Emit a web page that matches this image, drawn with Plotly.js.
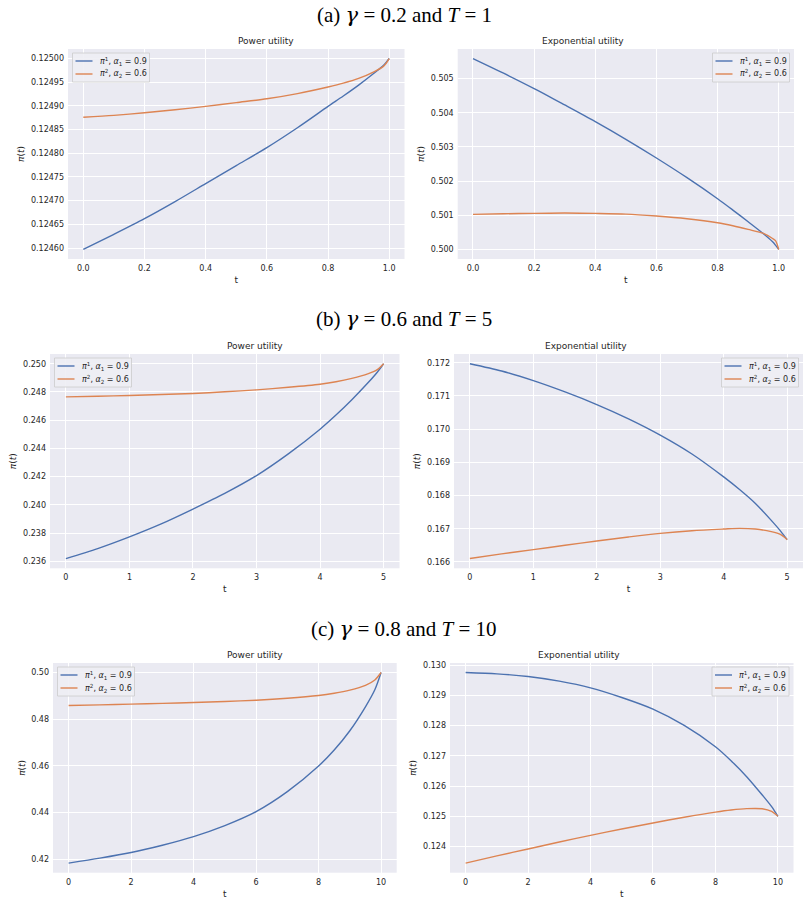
<!DOCTYPE html>
<html>
<head>
<meta charset="utf-8">
<script src="https://cdn.plot.ly/plotly-3.0.1.min.js"></script>
<style>
  body { margin: 0; background: #ffffff; }
  #chart { width: 808px; height: 904px; }
</style>
</head>
<body>
<div id="chart"></div>
<script>
// ---- time grids (T = 1, 5, 10) ----
const tA = [0, 0.1, 0.2, 0.3, 0.4, 0.5, 0.6, 0.7, 0.8, 0.85, 0.9, 0.95, 0.98, 0.99, 1.0];
const tB = [0, 0.5, 1, 1.5, 2, 2.5, 3, 3.5, 4, 4.25, 4.5, 4.75, 4.9, 5];
const tC = [0, 1, 2, 3, 4, 5, 6, 7, 8, 8.5, 9, 9.5, 9.8, 10];

// ---- (a) gamma = 0.2, T = 1 ----
const powerA_pi1 = [0.124597, 0.124629, 0.124662, 0.124698, 0.124736, 0.124774, 0.124812, 0.124854, 0.124899, 0.124921, 0.124944, 0.124969, 0.124985, 0.124992, 0.125000];
const powerA_pi2 = [0.124876, 0.124880, 0.1248855, 0.124892, 0.124899, 0.124907, 0.124915, 0.124926, 0.124940, 0.124948, 0.124958, 0.124972, 0.124983, 0.124990, 0.125000];
const expA_pi1 = [0.505586, 0.505156, 0.504707, 0.504228, 0.503740, 0.503223, 0.502676, 0.502100, 0.501484, 0.501152, 0.500810, 0.500460, 0.500225, 0.500120, 0.500000];
const expA_pi2 = [0.501025, 0.501045, 0.501055, 0.501065, 0.501055, 0.501035, 0.500977, 0.500898, 0.500781, 0.500693, 0.500586, 0.500469, 0.500320, 0.500250, 0.500000];

// ---- (b) gamma = 0.6, T = 5 ----
const powerB_pi1 = [0.23619, 0.23690, 0.23773, 0.23865, 0.23970, 0.24081, 0.24207, 0.24361, 0.24536, 0.24636, 0.24745, 0.24863, 0.24940, 0.25000];
const powerB_pi2 = [0.24765, 0.24770, 0.24775, 0.24782, 0.24789, 0.24801, 0.24815, 0.24833, 0.24855, 0.24872, 0.24896, 0.24928, 0.24958, 0.25000];
const expB_pi1 = [0.17197, 0.17175, 0.17146, 0.17112, 0.17074, 0.17031, 0.16982, 0.16925, 0.16856, 0.16818, 0.16776, 0.16725, 0.16692, 0.16667];
const expB_pi2 = [0.16610, 0.16624, 0.16637, 0.16650, 0.16663, 0.16675, 0.16686, 0.16694, 0.16699, 0.16701, 0.16699, 0.16691, 0.16682, 0.16667];

// ---- (c) gamma = 0.8, T = 10 ----
const powerC_pi1 = [0.41829, 0.42043, 0.42285, 0.42599, 0.42970, 0.43441, 0.44039, 0.44895, 0.45993, 0.46678, 0.47504, 0.48531, 0.49260, 0.50000];
const powerC_pi2 = [0.48586, 0.48615, 0.48645, 0.48678, 0.48714, 0.48758, 0.48814, 0.48897, 0.49014, 0.49110, 0.49243, 0.49450, 0.49680, 0.50000];
const expC_pi1 = [0.129758, 0.129714, 0.129626, 0.129472, 0.129251, 0.128932, 0.128547, 0.128007, 0.127303, 0.126840, 0.126312, 0.125706, 0.125320, 0.125000];
const expC_pi2 = [0.123450, 0.123690, 0.123920, 0.124150, 0.124370, 0.124580, 0.124780, 0.124970, 0.125140, 0.125210, 0.125255, 0.125250, 0.125160, 0.125000];

// ---- labels ----
const GAMMA = '<span style="font-family:\'DejaVu Serif\'"><i>γ</i></span>';
const rowTitles = [
  '(a) ' + GAMMA + ' = 0.2 and <i>T</i> = 1',
  '(b) ' + GAMMA + ' = 0.6 and <i>T</i> = 5',
  '(c) ' + GAMMA + ' = 0.8 and <i>T</i> = 10'
];
const panelTitles = ['Power utility', 'Exponential utility'];
const seriesNames = [
  '<i>π</i><sup>1</sup>, <i>α</i><sub>1</sub> = 0.9',
  '<i>π</i><sup>2</sup>, <i>α</i><sub>2</sub> = 0.6'
];

// ---- styling ----
const W = 808, H = 904;
const BLUE = '#4c72b0', ORANGE = '#dd8452';
const INK = '#262626';
const px = v => v / W;
const py = v => 1 - v / H;

const panels = [
  { t: tA, s1: powerA_pi1, s2: powerA_pi2, title: 0, frame: [68, 404.5, 49, 259],     xd: 0.2, xf: '.1f', yd: 0.00005, yf: '.5f', leg: 'left' },
  { t: tA, s1: expA_pi1,   s2: expA_pi2,   title: 1, frame: [457.7, 794, 49, 259],    xd: 0.2, xf: '.1f', yd: 0.001,   yf: '.3f', leg: 'right' },
  { t: tB, s1: powerB_pi1, s2: powerB_pi2, title: 0, frame: [50, 399.5, 354, 568.3],  xd: 1,   xf: 'd',   yd: 0.002,   yf: '.3f', leg: 'left' },
  { t: tB, s1: expB_pi1,   s2: expB_pi2,   title: 1, frame: [454, 803, 354, 568.3],   xd: 1,   xf: 'd',   yd: 0.001,   yf: '.3f', leg: 'right' },
  { t: tC, s1: powerC_pi1, s2: powerC_pi2, title: 0, frame: [53, 396.7, 663, 872.7],  xd: 2,   xf: 'd',   yd: 0.02,    yf: '.2f', leg: 'left' },
  { t: tC, s1: expC_pi1,   s2: expC_pi2,   title: 1, frame: [450, 793.5, 663, 872.7], xd: 2,   xf: 'd',   yd: 0.001,   yf: '.3f', leg: 'right' }
];

const traces = [];
const layout = {
  width: W, height: H,
  margin: { l: 0, r: 0, t: 0, b: 0 },
  paper_bgcolor: '#ffffff',
  plot_bgcolor: '#eaeaf2',
  showlegend: false,
  font: { family: 'DejaVu Sans, sans-serif', color: INK, size: 8 },
  annotations: [],
  shapes: []
};

const pad = (lo, hi) => { const d = (hi - lo) * 0.05; return [lo - d, hi + d]; };

panels.forEach((p, i) => {
  const n = i + 1;
  const xa = 'xaxis' + (n === 1 ? '' : n), ya = 'yaxis' + (n === 1 ? '' : n);
  const xr = 'x' + (n === 1 ? '' : n), yr = 'y' + (n === 1 ? '' : n);
  const [L, R, T, B] = p.frame;
  const all = p.s1.concat(p.s2);
  const tMax = p.t[p.t.length - 1];

  [[p.s1, BLUE, 0], [p.s2, ORANGE, 1]].forEach(([ys, col, k]) => {
    traces.push({
      type: 'scatter', mode: 'lines', x: p.t, y: ys, xaxis: xr, yaxis: yr,
      name: seriesNames[k],
      line: { color: col, width: 1.4, shape: 'spline', smoothing: 0.8 },
      hoverinfo: 'skip'
    });
  });

  const common = {
    showgrid: true, gridcolor: '#ffffff', gridwidth: 1,
    zeroline: false, showline: false, ticks: '',
    tickfont: { size: 8, color: INK, family: 'DejaVu Sans, sans-serif' },
    tickmode: 'linear', tick0: 0, ticklabelstandoff: 3
  };
  layout[xa] = Object.assign({}, common, {
    domain: [px(L), px(R)], anchor: yr,
    range: pad(0, tMax), dtick: p.xd, tickformat: p.xf,
    title: { text: 't', font: { size: 9, color: INK }, standoff: 4 }
  });
  layout[ya] = Object.assign({}, common, {
    domain: [py(B), py(T)], anchor: xr,
    range: pad(Math.min(...all), Math.max(...all)), dtick: p.yd, tickformat: p.yf,
    title: { text: '<i>π</i>(<i>t</i>)', font: { size: 9, color: INK }, standoff: 4 }
  });

  // panel title
  layout.annotations.push({
    xref: 'paper', yref: 'paper', x: px((L + R) / 2), y: py(T), yanchor: 'bottom', yshift: 1,
    text: panelTitles[p.title], showarrow: false, font: { size: 9, color: INK }
  });

  // legend box
  const bw = 77, bh = 29;
  const bx = p.leg === 'left' ? L + 4.5 : R - 4.5 - bw;
  const by = T + 4;
  layout.shapes.push({
    type: 'rect', xref: 'paper', yref: 'paper',
    x0: px(bx), x1: px(bx + bw), y0: py(by), y1: py(by + bh),
    fillcolor: 'rgba(238,238,244,0.9)', line: { color: '#cccccc', width: 0.8 }
  });
  [BLUE, ORANGE].forEach((col, k) => {
    const ry = by + 8 + k * 13;
    layout.shapes.push({
      type: 'line', xref: 'paper', yref: 'paper',
      x0: px(bx + 3), x1: px(bx + 20), y0: py(ry), y1: py(ry),
      line: { color: col, width: 1.4 }
    });
    layout.annotations.push({
      xref: 'paper', yref: 'paper', x: px(bx + 25), y: py(ry), xanchor: 'left', yanchor: 'middle',
      text: seriesNames[k], showarrow: false, font: { size: 8, color: INK }
    });
  });
});

// row headings
[15, 319, 629].forEach((yy, r) => {
  layout.annotations.push({
    xref: 'paper', yref: 'paper', x: 0.5, y: py(yy), yanchor: 'middle',
    text: rowTitles[r], showarrow: false,
    font: { family: 'Liberation Serif, serif', size: 21, color: '#000000' }
  });
});

Plotly.newPlot('chart', traces, layout, { displayModeBar: false, staticPlot: true });
</script>
</body>
</html>
